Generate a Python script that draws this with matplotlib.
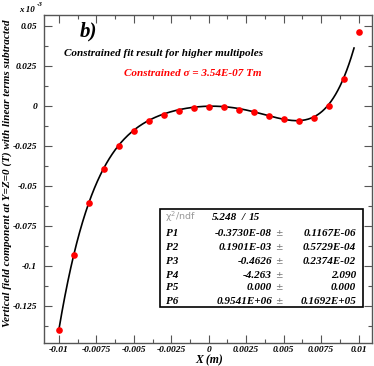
import numpy as np
import matplotlib
matplotlib.use("Agg")
import matplotlib.pyplot as plt
from matplotlib.patches import Rectangle
from matplotlib.ticker import MultipleLocator

# Data (y in units of 1e-3 T)
x_pts = [-0.010, -0.009, -0.008, -0.007, -0.006, -0.005, -0.004, -0.003, -0.002, -0.001,
         0.000, 0.001, 0.002, 0.003, 0.004, 0.005, 0.006, 0.007, 0.008, 0.009, 0.010]
y_pts = [-0.140, -0.0933, -0.0608, -0.0392, -0.0246, -0.0152, -0.0092, -0.0054, -0.0027, -0.0010,
         -0.0004, -0.0008, -0.0021, -0.0037, -0.0062, -0.0081, -0.0094, -0.0071, 0.0004, 0.0169, 0.0464]

# Fit parameters (polynomial in x, result in T)
par_names = ["P1", "P2", "P3", "P4", "P5", "P6"]
par_vals = [-0.3730e-08, 0.1901e-03, -0.4626, -4.263, 0.0, 0.9541e+06]
par_val_txt = ["-0.3730E-08", "0.1901E-03", "-0.4626", "-4.263", "0.000", "0.9541E+06"]
par_err_txt = ["0.1167E-06", "0.5729E-04", "0.2374E-02", "2.090", "0.000", "0.1692E+05"]
chi2_txt = "5.248"
ndf_txt = "15"
fit_range = [-0.010, 0.0097]

xticks = [-0.01, -0.0075, -0.005, -0.0025, 0, 0.0025, 0.005, 0.0075, 0.01]
xtick_labels = ["-0.01", "-0.0075", "-0.005", "-0.0025", "0", "0.0025", "0.005", "0.0075", "0.01"]
yticks = [-0.125, -0.1, -0.075, -0.05, -0.025, 0, 0.025, 0.05]
ytick_labels = ["-0.125", "-0.1", "-0.075", "-0.05", "-0.025", "0", "0.025", "0.05"]

W, H = 374, 366
fig = plt.figure(figsize=(W / 100, H / 100), dpi=100)
L, R, T, B = 44, 372, 15, 343
ax = fig.add_axes([L / W, 1 - B / H, (R - L) / W, (B - T) / H])

serif = dict(family="Liberation Serif", weight="bold", style="italic")

xf = np.linspace(fit_range[0], fit_range[1], 400)
yf = sum(p * xf ** i for i, p in enumerate(par_vals)) * 1e3
ax.plot(xf, yf, color="black", lw=1.2, zorder=2)
ax.plot(x_pts, y_pts, "o", color="#ff0000", ms=4.8, mec="none", zorder=3)

ax.set_xlim(-0.011, 0.0109)
ax.set_ylim(-0.148, 0.057)
ax.set_xticks(xticks)
ax.set_xticklabels(xtick_labels, fontdict=serif, fontsize=6.8)
ax.set_yticks(yticks)
ax.set_yticklabels(ytick_labels, fontdict=serif, fontsize=6.8)
ax.xaxis.set_minor_locator(MultipleLocator(0.00125))
ax.yaxis.set_minor_locator(MultipleLocator(0.0125))
ax.tick_params(which="both", direction="in", top=True, right=True, color="#555555", width=0.8)
ax.tick_params(which="major", length=6)
ax.tick_params(axis="x", which="major", pad=2.5)
ax.tick_params(axis="y", which="major", pad=5)
ax.tick_params(which="minor", length=3)
for s in ax.spines.values():
    s.set_color("#555555")
    s.set_linewidth(1.0)

def fx(px):
    return px / W

def fy(py):
    return 1 - py / H

fig.text(fx(209), fy(360), "X (m)", fontdict=serif, fontsize=8.5, ha="center", va="center")
fig.text(fx(7), fy(173.5), "Vertical field component at Y=Z=0 (T) with linear terms subtracted",
         fontdict=serif, fontsize=8.0, ha="center", va="center", rotation=90)

fig.text(fx(19), fy(10), "x 10", fontdict=serif, fontsize=6.5, ha="left", va="center")
fig.text(fx(37), fy(4), "-3", fontdict=serif, fontsize=5, ha="left", va="center")

fig.text(fx(80), fy(31), "b)", fontdict=serif, fontsize=15, ha="left", va="center")
fig.text(fx(164), fy(54), "Constrained fit result for higher multipoles", fontdict=serif,
         fontsize=8, ha="center", va="center")
fig.text(fx(193), fy(74), "Constrained \u03c3 = 3.54E-07 Tm", fontdict=serif,
         fontsize=8, ha="center", va="center", color="#ff0000")

# Stats box
bx0, bx1, by0, by1 = 160, 363, 209, 307
fig.patches.append(Rectangle((fx(bx0), fy(by1)), fx(bx1) - fx(bx0), fy(by0) - fy(by1),
                             transform=fig.transFigure, fill=True, facecolor="white",
                             edgecolor="black", lw=1.2, zorder=5))
rows_y = [217, 233, 247.5, 261.5, 275, 288, 301]
fig.text(fx(165), fy(rows_y[0]), "\u03c7$^2$/ndf", family="DejaVu Sans", fontsize=6.8,
         color="#9a9a9a", ha="left", va="center", zorder=6)
fig.text(fx(237), fy(rows_y[0]), chi2_txt, fontdict=serif, fontsize=8, ha="right", va="center", zorder=6)
fig.text(fx(243), fy(rows_y[0]), "/", fontdict=serif, fontsize=8, ha="center", va="center", zorder=6)
fig.text(fx(249), fy(rows_y[0]), ndf_txt, fontdict=serif, fontsize=8, ha="left", va="center", zorder=6)
for i, name in enumerate(par_names):
    yy = fy(rows_y[i + 1])
    fig.text(fx(166), yy, name, fontdict=serif, fontsize=8, ha="left", va="center", zorder=6)
    fig.text(fx(272), yy, par_val_txt[i], fontdict=serif, fontsize=8, ha="right", va="center", zorder=6)
    fig.text(fx(279), yy, "\u00b1", family="DejaVu Sans", fontsize=6.5, color="#777777",
             ha="center", va="center", zorder=6)
    fig.text(fx(356), yy, par_err_txt[i], fontdict=serif, fontsize=8, ha="right", va="center", zorder=6)

fig.savefig("out.png", dpi=100)
